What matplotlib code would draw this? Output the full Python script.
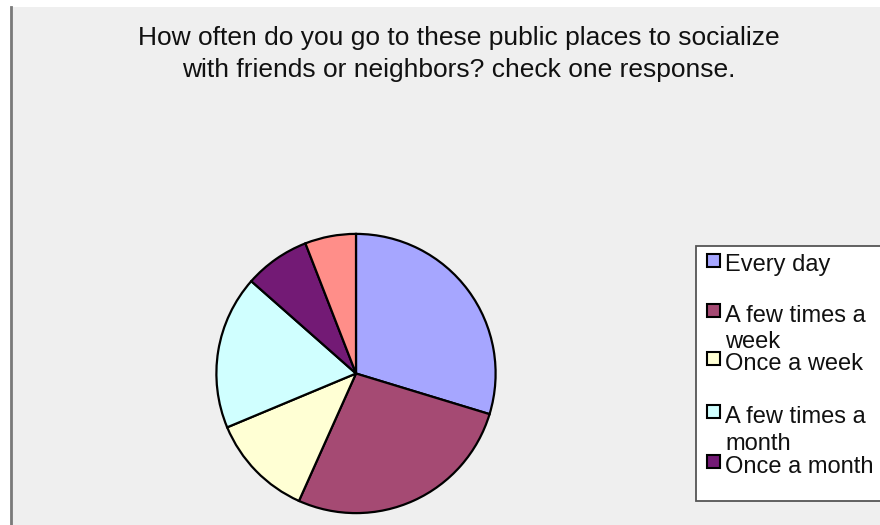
import matplotlib
matplotlib.use("Agg")
import matplotlib.pyplot as plt
from matplotlib.patches import Rectangle

plt.rcParams['font.family'] = ['Liberation Sans', 'DejaVu Sans']

# ---- data ----
categories = ["Every day", "A few times a\nweek", "Once a week",
              "A few times a\nmonth", "Once a month", "Never"]
values = [29.7, 27.0, 12.0, 17.8, 7.6, 5.9]
colors = ["#A6A6FF", "#A54A73", "#FFFFD4", "#D0FFFF", "#731A75", "#FF8E89"]
title_lines = ["How often do you go to these public places to socialize",
               "with friends or neighbors? check one response."]
legend_count = 5  # only five entries are visible in the legend box

W, H = 880, 525
fig = plt.figure(figsize=(W / 100, H / 100), dpi=100)
fig.patch.set_facecolor("white")

def px(x, y):
    """pixel (from top-left) -> figure fraction"""
    return x / W, 1 - y / H

# chart area background
bg = Rectangle(px(10, 525), (W - 10) / W, (525 - 7) / H, transform=fig.transFigure,
               facecolor="#EFEFEF", edgecolor="none", zorder=-5)
fig.patches.append(bg)
fig.add_artist(plt.Line2D([10.5 / W, 10.5 / W], [0, 1 - 7 / H], transform=fig.transFigure,
                          color="#7A7A7A", lw=2, zorder=-4))

# title
for i, line in enumerate(title_lines):
    x, y = px(458.5, 45 + i * 31.7)
    fig.text(x, y, line, ha="center", va="baseline", fontsize=19, color="#111111")

# pie
cx, cy, r = 356, 373.5, 141
ax = fig.add_axes([(cx - r) / W, (H - cy - r) / H, 2 * r / W, 2 * r / H])
ax.set_zorder(1)
ax.patch.set_visible(False)
ax.pie(values, colors=colors, startangle=90, counterclock=False,
       wedgeprops=dict(edgecolor="black", linewidth=1.6), radius=1)
ax.set_xlim(-1.01, 1.01)
ax.set_ylim(-1.01, 1.01)
ax.set_aspect("equal")
ax.axis("off")

# legend box (manual, clipped at right edge like the original)
lb = Rectangle(px(696, 501), (W - 696 + 10) / W, (501 - 246) / H, transform=fig.transFigure,
               facecolor="white", edgecolor="#555555", lw=1.3, zorder=2)
fig.patches.append(lb)

first_baselines = [271.5, 321.7, 370, 423, 473]
for i in range(legend_count):
    base = first_baselines[i]
    # marker square
    sq = Rectangle(px(707, base - 5), 13 / W, 13 / H, transform=fig.transFigure,
                   facecolor=colors[i], edgecolor="black", lw=1.5, zorder=3)
    fig.patches.append(sq)
    for j, part in enumerate(categories[i].split("\n")):
        x, y = px(725, base + j * 26.5)
        fig.text(x, y, part, ha="left", va="baseline", fontsize=17, color="#111111", zorder=4)

fig.savefig("out.png", dpi=100)
